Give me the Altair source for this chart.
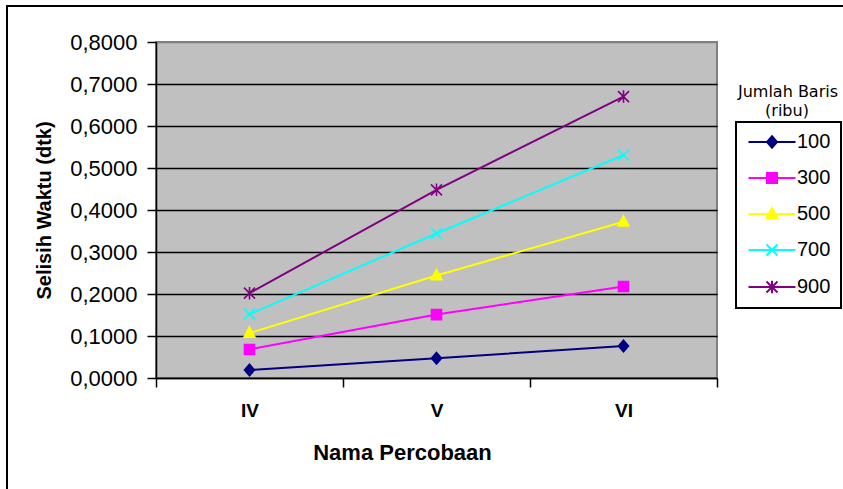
import altair as alt
import pandas as pd

# Experiments on the x axis, row counts (thousands) as series
experiments = ["IV", "V", "VI"]
row_counts = ["100", "300", "500", "700", "900"]

waktu_100 = [0.019, 0.047, 0.076]
waktu_300 = [0.068, 0.151, 0.218]
waktu_500 = [0.107, 0.244, 0.372]
waktu_700 = [0.152, 0.344, 0.531]
waktu_900 = [0.202, 0.448, 0.670]

series_colors = ["#000080", "#FF00FF", "#FFFF00", "#00FFFF", "#800080"]
y_ticks = [0.0, 0.1, 0.2, 0.3, 0.4, 0.5, 0.6, 0.7, 0.8]

# Marker outlines (unit box), and the same with a line stroke for the key
marker_paths = [
    "M0,-1.15L1,0L0,1.15L-1,0Z",
    "M-1,-1L1,-1L1,1L-1,1Z",
    "M0,-1.2L1.1,0.85L-1.1,0.85Z",
    "M-1.1,-1.1L1.1,1.1M-1.1,1.1L1.1,-1.1",
    "M-1.1,-1.1L1.1,1.1M-1.1,1.1L1.1,-1.1M0,-1.25L0,1.25",
]
key_paths = [p + "M-4.7,0L4.7,0" for p in marker_paths]

rows = []
for name, values in zip(row_counts, [waktu_100, waktu_300, waktu_500, waktu_700, waktu_900]):
    for exp, val in zip(experiments, values):
        rows.append({"percobaan": exp, "baris": name, "selisih": val})
df = pd.DataFrame(rows)

W, H = 561, 336
LABEL_FONT = "Liberation Sans"

x_enc = alt.X(
    "percobaan:N",
    sort=experiments,
    scale=alt.Scale(type="band", paddingInner=0, paddingOuter=0),
    axis=alt.Axis(
        title="Nama Percobaan",
        titleFont=LABEL_FONT,
        titleFontSize=22,
        titleFontWeight="bold",
        titleColor="black",
        titleX=246,
        titleY=74,
        titleAlign="center",
        titleBaseline="middle",
        labelFont=LABEL_FONT,
        labelFontSize=19,
        labelFontWeight="bold",
        labelColor="black",
        labelAngle=0,
        labelPadding=14,
        tickBand="extent",
        tickSize=9,
        tickColor="black",
        tickWidth=1.5,
        domainColor="black",
        domainWidth=1.5,
        grid=False,
    ),
)

y_enc = alt.Y(
    "selisih:Q",
    scale=alt.Scale(domain=[0, 0.8], nice=False, zero=True),
    axis=alt.Axis(
        values=y_ticks,
        labelExpr="replace(format(datum.value, '.4f'), '.', ',')",
        title="Selisih Waktu (dtk)",
        titleFont=LABEL_FONT,
        titleFontSize=20,
        titleFontWeight="bold",
        titleColor="black",
        titleAngle=270,
        titleX=-112,
        titleY=168,
        titleAlign="center",
        titleBaseline="middle",
        labelFont=LABEL_FONT,
        labelFontSize=22,
        labelColor="black",
        labelPadding=10,
        tickSize=9,
        tickColor="black",
        tickWidth=1.5,
        domainColor="black",
        domainWidth=1.5,
        grid=True,
        gridColor={"condition": {"test": "datum.value >= 0.8", "value": "#808080"}, "value": "black"},
        gridWidth=1.5,
    ),
)

color_scale = alt.Scale(domain=row_counts, range=series_colors)

base = alt.Chart(df)

lines = base.mark_line(strokeWidth=2).encode(
    x=x_enc,
    y=y_enc,
    color=alt.Color("baris:N", scale=color_scale, legend=None),
)

points = base.mark_point(filled=True, size=100, strokeWidth=1.6, opacity=1).encode(
    x=x_enc,
    y=y_enc,
    color=alt.Color("baris:N", scale=color_scale, legend=None),
    stroke=alt.Stroke("baris:N", scale=color_scale, legend=None),
    shape=alt.Shape("baris:N", scale=alt.Scale(domain=row_counts, range=marker_paths), legend=None),
)

series_layer = alt.layer(lines, points)

key_legend = alt.Legend(
    title=None,
    orient="none",
    legendX=580,
    legendY=80,
    padding=10,
    strokeColor="black",
    fillColor="white",
    labelFont=LABEL_FONT,
    labelFontSize=20,
    labelColor="black",
    labelBaseline="middle",
    symbolSize=100,
    symbolOffset=16,
    labelOffset=15,
    rowPadding=16,
    symbolStrokeWidth=2,
    symbolOpacity=1,
)

# Key entries: the point layer carries no rows, only its scales
key = base.transform_filter("datum.selisih < 0").mark_point(
    filled=True, size=100, strokeWidth=2, opacity=1
).encode(
    x=x_enc,
    y=y_enc,
    color=alt.Color("baris:N", scale=color_scale, legend=key_legend),
    stroke=alt.Stroke("baris:N", scale=color_scale, legend=key_legend),
    shape=alt.Shape("baris:N", scale=alt.Scale(domain=row_counts, range=key_paths), legend=key_legend),
)

one_row = alt.Data(values=[{}])

frame = alt.Chart(one_row).mark_rect(fill="transparent", stroke="black", strokeWidth=2).encode(
    x=alt.value(-149), x2=alt.value(692), y=alt.value(-36), y2=alt.value(452)
)

key_title_1 = alt.Chart(one_row).mark_text(
    text="Jumlah Baris", font="DejaVu Sans", fontSize=16, align="center", baseline="middle", color="black"
).encode(x=alt.value(632), y=alt.value(50))

key_title_2 = alt.Chart(one_row).mark_text(
    text="(ribu)", font="DejaVu Sans", fontSize=16, align="center", baseline="middle", color="black"
).encode(x=alt.value(631), y=alt.value(69))

chart = (
    alt.layer(frame, series_layer, key, key_title_1, key_title_2)
    .resolve_scale(color="independent", stroke="independent", shape="independent")
    .properties(
        width=W,
        height=H,
        padding={"left": 156, "top": 42, "right": 126, "bottom": 111},
        autosize=alt.AutoSizeParams(type="none"),
        background="white",
    )
    .configure_view(fill="#C0C0C0", stroke="#808080", strokeWidth=2)
    .configure_legend(strokeWidth=2)
)

chart.save("out.html", embed_options={"renderer": "svg", "actions": False})
